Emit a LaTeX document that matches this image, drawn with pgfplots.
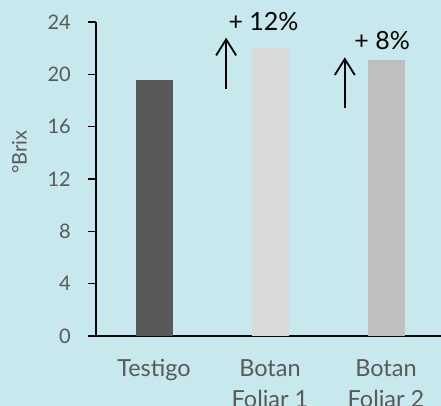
\documentclass[border=0pt]{standalone}
\usepackage{fontspec}
\setmainfont{Lato}
\usepackage{pgfplots}
\pgfplotsset{compat=1.18}
\usetikzlibrary{arrows.meta}
\definecolor{bg}{HTML}{C7E8EC}
\definecolor{txtgray}{HTML}{595959}
\definecolor{bardark}{HTML}{595959}
\definecolor{barlight}{HTML}{D9D9D9}
\definecolor{barmid}{HTML}{BFBFBF}
\begin{document}
\begin{tikzpicture}
\fill[bg] (0pt,0pt) rectangle (441pt,406pt);
\useasboundingbox (0pt,0pt) rectangle (441pt,406pt);
\clip (0pt,0pt) rectangle (441pt,406pt);
\begin{axis}[
  at={(96pt,70pt)}, anchor=south west,
  scale only axis, width=348pt, height=314pt,
  xmin=-0.5, xmax=2.5, ymin=0, ymax=24,
  ytick={0,4,8,12,16,20,24},
  xtick={0,1,2},
  xticklabels={Testigo,Botan\\Foliar 1,Botan\\Foliar 2},
  axis x line*=bottom, axis y line*=left,
  axis line style={black, line width=1.3pt},
  tick align=outside,
  major tick length=8pt,
  ytick style={black, line width=1.3pt},
  xtick style={draw=none},
  /pgf/number format/assume math mode=true,
  yticklabel style={font=\fontsize{20}{22}\selectfont, text=txtgray, anchor=east, inner sep=0pt},
  yticklabel pos=left,
  yticklabel shift=17pt,
  xticklabel style={font=\fontsize{23.5}{31}\selectfont, text=txtgray, align=center, yshift=-12pt},
  ylabel={°Brix},
  ylabel style={font=\fontsize{20}{22}\selectfont, text=txtgray, at={(axis description cs:-0.22,0.585)}, anchor=center},
  ybar, bar width=37pt, bar shift=0pt,
  clip=false,
]
\addplot[fill=bardark, draw=none] coordinates {(0,19.6)};
\addplot[fill=barlight, draw=none] coordinates {(1,22.0)};
\addplot[fill=barmid, draw=none] coordinates {(2,21.1)};
\draw[-{Straight Barb[length=16pt,width=20pt]}, line width=1.8pt] (axis cs:0.622,18.9) -- (axis cs:0.622,22.8);
\draw[-{Straight Barb[length=16pt,width=20pt]}, line width=1.8pt] (axis cs:1.645,17.4) -- (axis cs:1.645,21.3);
\node[font=\fontsize{25}{28}\selectfont, text=black] at (axis cs:0.944,24.0) {+ 12\%};
\node[font=\fontsize{25}{28}\selectfont, text=black] at (axis cs:1.967,22.6) {+ 8\%};
\end{axis}
\end{tikzpicture}
\end{document}
